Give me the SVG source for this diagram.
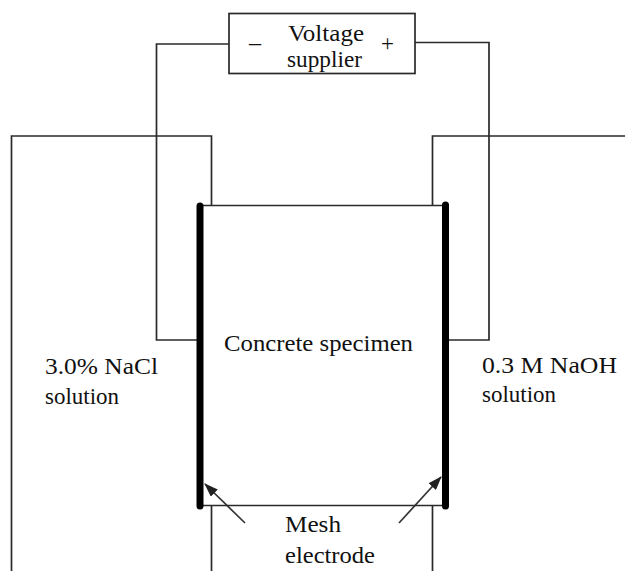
<svg xmlns="http://www.w3.org/2000/svg" width="625" height="571" viewBox="0 0 625 571">
<style>
.l{fill:none;stroke:#2a2a2a;stroke-width:1.7}
.e{fill:none;stroke:#000;stroke-width:7;stroke-linecap:round}
.a{stroke:#333;stroke-width:1.7;fill:none;marker-end:url(#ah)}
text{font-family:"Liberation Serif",serif;font-size:23px;fill:#111;lengthAdjust:spacingAndGlyphs}
</style>
<defs><marker id="ah" markerUnits="userSpaceOnUse" markerWidth="14" markerHeight="10" refX="13" refY="5" orient="auto"><path d="M0 0L14 5L0 10z" fill="#222"/></marker></defs>
<rect width="625" height="571" fill="#fff"/>
<g id="connectors">
<path class="l" d="M229 44H156.500V340H200"/>
<path class="l" d="M415 42.500H489V340H446"/>
<path class="l" d="M11.500 571V136H211.500V205"/>
<path class="l" d="M625 136H432.500V205"/>
<path class="l" d="M211.500 506V571"/>
<path class="l" d="M432.500 506V571"/>
<path class="a" d="M245 523L205 484"/>
<path class="a" d="M399 523L441 477"/>
</g>
<g id="voltage-supplier">
<rect class="l" x="229" y="13.500" width="186" height="60" fill="#fff"/>
<text x="249" y="50" font-size="17" fill="#555" textLength="12" lengthAdjust="spacingAndGlyphs">–</text>
<text x="381" y="51" font-size="22" textLength="13" lengthAdjust="spacingAndGlyphs">+</text>
<text x="288" y="41" textLength="76" lengthAdjust="spacingAndGlyphs">Voltage</text>
<text x="287" y="67" textLength="75" lengthAdjust="spacingAndGlyphs">supplier</text>
</g>
<g id="concrete-specimen">
<path class="l" d="M200 205.500H446M200 505.500H446"/>
<path class="e" d="M200 206V506"/>
<path class="e" d="M445.500 205V506"/>
<text x="224" y="351" textLength="189" lengthAdjust="spacingAndGlyphs">Concrete specimen</text>
</g>
<g id="nacl-solution"><text x="45" y="374" textLength="113" lengthAdjust="spacingAndGlyphs">3.0% NaCl</text><text x="45" y="404" textLength="74" lengthAdjust="spacingAndGlyphs">solution</text></g>
<g id="naoh-solution"><text x="482" y="373" textLength="135" lengthAdjust="spacingAndGlyphs">0.3 M NaOH</text><text x="482" y="402" textLength="74" lengthAdjust="spacingAndGlyphs">solution</text></g>
<g id="mesh-electrode"><text x="285" y="532" textLength="56" lengthAdjust="spacingAndGlyphs">Mesh</text><text x="285" y="563" textLength="90" lengthAdjust="spacingAndGlyphs">electrode</text></g>
</svg>
